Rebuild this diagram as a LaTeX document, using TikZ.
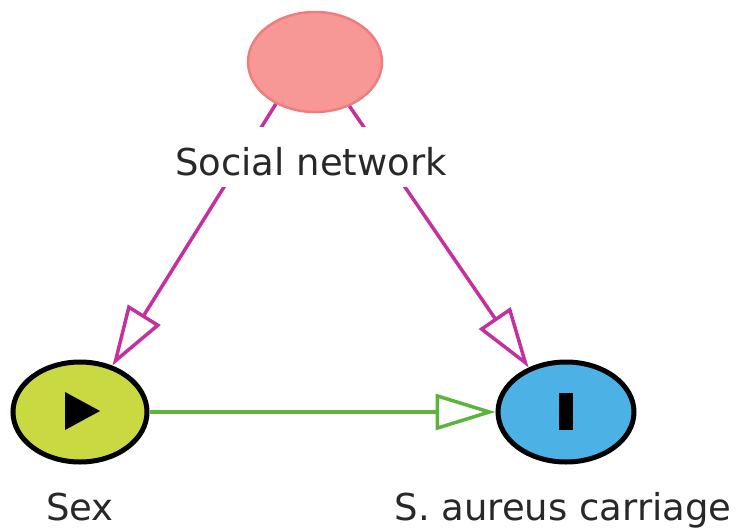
\documentclass[tikz,border=0pt]{standalone}
\usepackage{fontspec}
\setmainfont{DejaVu Sans}
\usetikzlibrary{shapes.geometric,arrows.meta}
\definecolor{socfill}{RGB}{248,152,150}
\definecolor{socdraw}{RGB}{240,125,125}
\definecolor{sexfill}{RGB}{202,216,66}
\definecolor{safill}{RGB}{76,178,230}
\definecolor{magline}{RGB}{196,48,158}
\definecolor{grnline}{RGB}{92,180,60}
\definecolor{txt}{RGB}{40,40,40}
\tikzset{
  var/.style={ellipse, minimum width=134pt, minimum height=100pt, inner sep=0pt},
  lab/.style={anchor=base, font=\fontsize{37}{40}\selectfont, text=txt, inner sep=0pt},
  magarrow/.style={draw=magline, line width=3.5pt, -{Triangle[open, length=60pt, width=38pt, line width=3.5pt]}},
  grnarrow/.style={draw=grnline, line width=3.5pt, -{Triangle[open, length=60pt, width=36pt, line width=3.5pt]}},
}
\begin{document}
\begin{tikzpicture}[x=1pt, y=-1pt]
\useasboundingbox (0,0) rectangle (737,531);
\node[var, fill=socfill, draw=socdraw, line width=2.5pt] (soc) at (315,62) {};
\node[var, fill=sexfill, draw=black, line width=5pt] (sex) at (80,412) {};
\node[var, fill=safill, draw=black, line width=5pt, minimum width=136pt] (sa) at (566,412) {};
\fill[black, shift={(sex.center)}] (-15,-20) -- (-15,18) -- (20,-1) -- cycle;
\fill[black, shift={(sa.center)}] (-7,-19) rectangle (7,18);
\draw[magarrow] (soc.-133) -- (sex.55);
\draw[magarrow] (soc.-52) -- (sa.130);
\draw[grnarrow] (sex.east) -- (sa.west);
\node[lab, fill=white, text height=48pt, text depth=12pt, inner xsep=2pt] (socl) at (311,175) {Social network};
\node[lab] (sexl) at (80,520) {Sex};
\node[lab] (sal) at (563,520) {S. aureus carriage};
\end{tikzpicture}
\end{document}
